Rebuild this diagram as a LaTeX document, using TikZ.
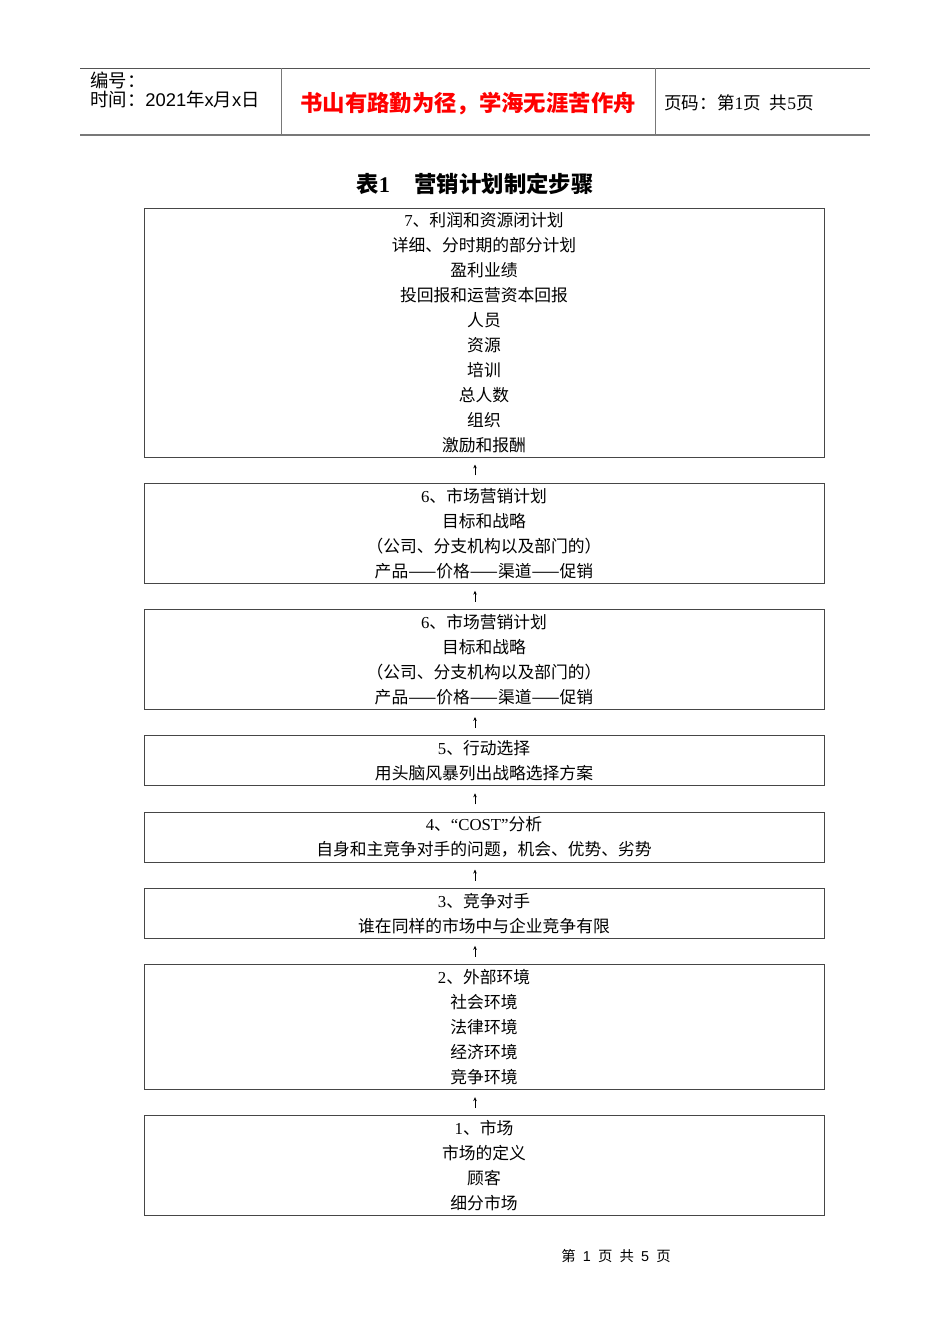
\documentclass[tikz,border=0pt]{standalone}
\usepackage{fontspec}
\setmainfont{Noto Sans CJK SC}
\newfontfamily\lat{Liberation Serif}
\newfontfamily\arial{Liberation Sans}
\usetikzlibrary{positioning,arrows.meta}

\definecolor{rulegray}{RGB}{120,120,120}
\definecolor{boxgray}{RGB}{70,70,70}

\tikzset{
  stepbox/.style={draw=boxgray, line width=0.6pt, minimum width=425.7pt,
    inner sep=0pt, align=center, font=\fontsize{10.5pt}{15.65pt}\selectfont},
  uparrow/.style={-{Stealth[length=2.4pt,width=2.2pt]}, line width=0.45pt,
    shorten <=4.6pt, shorten >=4.4pt},
  headtext/.style={inner sep=0pt, font=\fontsize{11.5pt}{14pt}\selectfont},
}

\begin{document}
\begin{tikzpicture}[x=0.626pt, y=-0.626pt]
\useasboundingbox (0,0) rectangle (950,1344);

% header table
\draw [rulegray!70!black, line width=0.6pt] (80,68) -- (870,68);
\draw [rulegray, line width=1.3pt] (80,135) -- (870,135);
\draw [rulegray, line width=0.6pt] (281,68) -- (281,135);
\draw [rulegray, line width=0.6pt] (655,68) -- (655,135);

\node [headtext, anchor=west] (number) at (90,80) {编号：};
\node [headtext, anchor=west] (date) at (90,99) {时间：{\arial 2021}年{\arial x}月{\arial x}日};
\node [inner sep=0pt, text=red, font=\fontsize{14pt}{16pt}\selectfont\bfseries] (motto) at (468,104) {书山有路勤为径，学海无涯苦作舟};
\node [headtext, anchor=west, font=\fontsize{11pt}{14pt}\selectfont] (pageno) at (664,103) {页码：第{\lat 1}页\enspace 共{\lat 5}页};

% title
\node [inner sep=0pt, font=\fontsize{14pt}{16pt}\selectfont\bfseries] (title) at (475,184) {表{\lat\bfseries 1}\hspace{1.1em}营销计划制定步骤};

% steps, from the top
\node [stepbox, minimum height=155.9pt] (step7) at (484,332.5)
  {{\lat 7}、利润和资源闭计划\\详细、分时期的部分计划\\盈利业绩\\投回报和运营资本回报\\人员\\资源\\培训\\总人数\\组织\\激励和报酬};
\node [stepbox, minimum height=62.6pt, below=15.85pt of step7] (step6a)
  {{\lat 6}、市场营销计划\\目标和战略\\（公司、分支机构以及部门的）\\产品——价格——渠道——促销};
\node [stepbox, minimum height=62.6pt, below=15.85pt of step6a] (step6b)
  {{\lat 6}、市场营销计划\\目标和战略\\（公司、分支机构以及部门的）\\产品——价格——渠道——促销};
\node [stepbox, minimum height=31.3pt, below=15.85pt of step6b] (step5)
  {{\lat 5}、行动选择\\用头脑风暴列出战略选择方案};
\node [stepbox, minimum height=31.3pt, below=15.85pt of step5] (step4)
  {{\lat 4}、{\lat “COST”}分析\\自身和主竞争对手的问题，机会、优势、劣势};
\node [stepbox, minimum height=31.3pt, below=15.85pt of step4] (step3)
  {{\lat 3}、竞争对手\\谁在同样的市场中与企业竞争有限};
\node [stepbox, minimum height=78.25pt, below=15.85pt of step3] (step2)
  {{\lat 2}、外部环境\\社会环境\\法律环境\\经济环境\\竞争环境};
\node [stepbox, minimum height=62.6pt, below=15.85pt of step2] (step1)
  {{\lat 1}、市场\\市场的定义\\顾客\\细分市场};

% arrows between steps
\coordinate (arrx) at (475,0);
\foreach \a/\b in {step1/step2, step2/step3, step3/step4, step4/step5,
                   step5/step6b, step6b/step6a, step6a/step7}
  \draw [uparrow] (\a.north -| arrx) -- (\b.south -| arrx);

% footer
\node [inner sep=0pt, font=\fontsize{9pt}{11pt}\selectfont] (footer) at (616,1256) {第\enspace{\arial 1}\enspace 页\enspace 共\enspace{\arial 5}\enspace 页};
\end{tikzpicture}
\end{document}
